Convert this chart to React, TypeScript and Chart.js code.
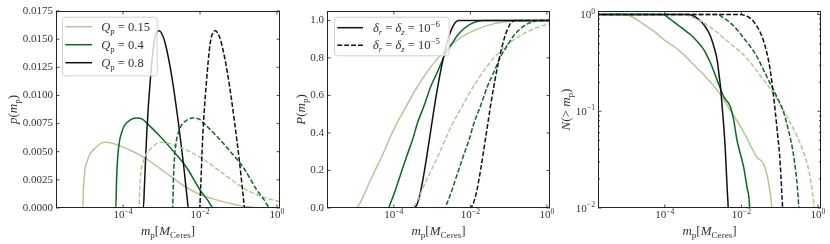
import React, { useEffect, useRef } from 'react';
import { Chart, registerables } from 'chart.js';

Chart.register(...registerables);

const SERIF = '"Liberation Serif", "DejaVu Serif", serif';
const LIGHT = 'rgb(178,200,152)';
const DARK = 'rgb(10,105,35)';
const BLACK = '#111111';
const TEXT = '#333333';

// ---------- shared axes ----------
const X_MIN = 1.8e-6;
const X_MAX = 1.2;
const xTickValues = [1e-4, 1e-2, 1];
const xTickExponents = ['−4', '−2', '0'];

// ---------- panel 1: p(m_p) ----------
const pdfTicks = [0, 0.0025, 0.005, 0.0075, 0.01, 0.0125, 0.015, 0.0175];
const pdfTickLabels = ['0.0000', '0.0025', '0.0050', '0.0075', '0.0100', '0.0125', '0.0150', '0.0175'];

const pdfLowSolidM = [1e-6, 8.9e-6, 9.3e-6, 1.02e-5, 1.15e-5, 1.38e-5, 1.86e-5, 2.5e-5, 3.4e-5, 5.0e-5, 8.5e-5, 1.86e-4, 4.1e-4, 9.1e-4, 2.0e-3, 4.5e-3, 1.0e-2, 2.7e-2, 7.4e-2, 0.2, 0.4, 2];
const pdfLowSolidP = [0, 0, 0.0016, 0.0034, 0.0041, 0.0048, 0.0053, 0.0057, 0.00583, 0.00577, 0.0055, 0.005, 0.00435, 0.0035, 0.00265, 0.0018, 0.0012, 0.00072, 0.00034, 0.0001, 0, 0];
const pdfMidSolidM = [1e-6, 6.46e-5, 6.76e-5, 7.24e-5, 7.94e-5, 9.33e-5, 1.12e-4, 1.51e-4, 2.14e-4, 3.16e-4, 4.07e-4, 9.12e-4, 2.04e-3, 4.47e-3, 1e-2, 1.58e-2, 2.24e-2, 2];
const pdfMidSolidP = [0, 0, 0.0025, 0.0045, 0.0058, 0.0068, 0.0074, 0.0078, 0.008, 0.0079, 0.00756, 0.00637, 0.00503, 0.0036, 0.0016, 0.0007, 0, 0];
const pdfHighSolidM = [1e-6, 3.37e-4, 3.58e-4, 4.12e-4, 5.02e-4, 6.38e-4, 7.48e-4, 8.61e-4, 1.01e-3, 1.23e-3, 1.84e-3, 2.74e-3, 3.69e-3, 4.69e-3, 4.98e-3, 2];
const pdfHighSolidP = [0, 0, 0.0019, 0.00667, 0.0111, 0.0147, 0.0156, 0.01574, 0.0155, 0.0147, 0.0117, 0.00756, 0.004, 0.0007, 0, 0];
const pdfLowDashM = [1e-6, 2.58e-4, 2.7e-4, 2.96e-4, 3.34e-4, 4.0e-4, 5.39e-4, 7.25e-4, 9.86e-4, 1.45e-3, 2.47e-3, 5.39e-3, 1.19e-2, 2.64e-2, 5.8e-2, 0.131, 0.29, 0.78, 2.15];
const pdfLowDashP = [0, 0, 0.0016, 0.0034, 0.0041, 0.0048, 0.0053, 0.0057, 0.00583, 0.00577, 0.0055, 0.005, 0.00435, 0.0035, 0.00265, 0.0018, 0.0012, 0.00072, 0.00034];
const pdfMidDashM = [1e-6, 1.94e-3, 2.03e-3, 2.17e-3, 2.38e-3, 2.8e-3, 3.36e-3, 4.53e-3, 6.42e-3, 9.5e-3, 1.22e-2, 2.74e-2, 6.1e-2, 0.134, 0.3, 0.47, 0.67, 2];
const pdfMidDashP = [0, 0, 0.0025, 0.0045, 0.0058, 0.0068, 0.0074, 0.0078, 0.008, 0.0079, 0.00756, 0.00637, 0.00503, 0.0036, 0.0016, 0.0007, 0, 0];
const pdfHighDashM = [1e-6, 9.77e-3, 1.04e-2, 1.19e-2, 1.46e-2, 1.85e-2, 2.17e-2, 2.5e-2, 2.93e-2, 3.57e-2, 5.34e-2, 7.95e-2, 0.107, 0.136, 0.144, 2];
const pdfHighDashP = [0, 0, 0.0019, 0.00667, 0.0111, 0.0147, 0.0156, 0.01574, 0.0155, 0.0147, 0.0117, 0.00756, 0.004, 0.0007, 0, 0];

// ---------- panel 2: P(m_p) ----------
const cdfTicks = [0, 0.2, 0.4, 0.6, 0.8, 1.0];
const cdfTickLabels = ['0.0', '0.2', '0.4', '0.6', '0.8', '1.0'];

const cdfLowSolidM = [1e-6, 1.02e-5, 1.26e-5, 1.58e-5, 2.09e-5, 3.09e-5, 5.01e-5, 6.92e-5, 1.12e-4, 1.86e-4, 4.07e-4, 9.12e-4, 2.04e-3, 4.47e-3, 1e-2, 2.69e-2, 7.41e-2, 0.2, 1.0, 2];
const cdfLowSolidP = [0, 0, 0.02, 0.06, 0.117, 0.192, 0.28, 0.346, 0.44, 0.522, 0.645, 0.751, 0.834, 0.894, 0.937, 0.972, 0.991, 0.998, 1, 1];
const cdfMidSolidM = [1e-6, 7.08e-5, 8.32e-5, 1.12e-4, 1.51e-4, 2.14e-4, 3.16e-4, 4.07e-4, 6.31e-4, 9.12e-4, 1.41e-3, 2.04e-3, 3.16e-3, 4.47e-3, 6.31e-3, 1e-2, 1.58e-2, 2.24e-2, 2];
const cdfMidSolidP = [0, 0, 0.03, 0.1, 0.18, 0.272, 0.37, 0.448, 0.55, 0.645, 0.73, 0.806, 0.87, 0.917, 0.95, 0.98, 0.995, 1, 1];
const cdfHighSolidM = [1e-6, 3.37e-4, 3.58e-4, 4.12e-4, 5.02e-4, 6.38e-4, 7.48e-4, 8.61e-4, 1.01e-3, 1.23e-3, 1.84e-3, 2.74e-3, 3.69e-3, 4.69e-3, 4.98e-3, 2];
const cdfHighSolidP = [0, 0, 0.002, 0.024, 0.089, 0.203, 0.292, 0.374, 0.466, 0.578, 0.772, 0.914, 0.978, 0.999, 1, 1];
const cdfLowDashM = [1e-6, 2.96e-4, 3.65e-4, 4.58e-4, 6.06e-4, 8.96e-4, 1.45e-3, 2.0e-3, 3.25e-3, 5.39e-3, 1.18e-2, 2.64e-2, 5.92e-2, 0.13, 0.29, 0.78, 2.15];
const cdfLowDashP = [0, 0, 0.02, 0.06, 0.117, 0.192, 0.28, 0.346, 0.44, 0.522, 0.645, 0.751, 0.834, 0.894, 0.937, 0.972, 0.991];
const cdfMidDashM = [1e-6, 2.12e-3, 2.5e-3, 3.36e-3, 4.53e-3, 6.42e-3, 9.48e-3, 1.22e-2, 1.89e-2, 2.74e-2, 4.23e-2, 6.12e-2, 9.48e-2, 0.134, 0.189, 0.3, 0.474, 0.672, 2];
const cdfMidDashP = [0, 0, 0.03, 0.1, 0.18, 0.272, 0.37, 0.448, 0.55, 0.645, 0.73, 0.806, 0.87, 0.917, 0.95, 0.98, 0.995, 1, 1];
const cdfHighDashM = [1e-6, 9.77e-3, 1.04e-2, 1.19e-2, 1.46e-2, 1.85e-2, 2.17e-2, 2.5e-2, 2.93e-2, 3.57e-2, 5.34e-2, 7.95e-2, 0.107, 0.136, 0.144, 2];
const cdfHighDashP = [0, 0, 0.002, 0.024, 0.089, 0.203, 0.292, 0.374, 0.466, 0.578, 0.772, 0.914, 0.978, 0.999, 1, 1];

// ---------- panel 3: N(> m_p) ----------
const survTicks = [0.01, 0.1, 1];
const survTickExponents = ['−2', '−1', '0'];
const survMinorTicks = [0.02, 0.03, 0.04, 0.05, 0.06, 0.07, 0.08, 0.09, 0.2, 0.3, 0.4, 0.5, 0.6, 0.7, 0.8, 0.9];

const survLowSolidM = [1e-6, 9.7e-6, 1.6e-5, 2.9e-5, 5.28e-5, 9.6e-5, 1.75e-4, 3.18e-4, 5.78e-4, 1.05e-3, 2.33e-3, 5.18e-3, 1.15e-2, 2.55e-2, 3.8e-2, 5.13e-2, 6.26e-2, 7e-2];
const survLowSolidN = [1, 1, 0.923, 0.787, 0.67, 0.549, 0.468, 0.383, 0.301, 0.237, 0.166, 0.102, 0.061, 0.0334, 0.0285, 0.0184, 0.0101, 0.005];
const survMidSolidM = [1e-6, 8.7e-5, 1.43e-4, 2.13e-4, 3.18e-4, 4.73e-4, 7.05e-4, 1.05e-3, 1.57e-3, 2.33e-3, 3.48e-3, 5.18e-3, 6.32e-3, 7.71e-3, 9.42e-3, 1.15e-2, 1.4e-2, 1.64e-2, 1.7e-2];
const survMidSolidN = [1, 1, 0.887, 0.787, 0.698, 0.619, 0.528, 0.432, 0.314, 0.21, 0.141, 0.111, 0.0806, 0.0499, 0.0362, 0.0263, 0.0163, 0.0101, 0.006];
const survHighSolidM = [1e-6, 4.28e-4, 5.78e-4, 7.8e-4, 1.05e-3, 1.28e-3, 1.57e-3, 1.91e-3, 2.33e-3, 2.58e-3, 2.85e-3, 3.15e-3, 3.48e-3, 3.77e-3, 4.08e-3, 4.33e-3, 4.51e-3, 4.6e-3];
const survHighSolidN = [1, 1, 0.961, 0.887, 0.787, 0.698, 0.595, 0.468, 0.34, 0.247, 0.179, 0.111, 0.0687, 0.0425, 0.0224, 0.0139, 0.0101, 0.006];
const survLowDashM = [1e-6, 3.18e-4, 5.78e-4, 1.05e-3, 1.91e-3, 3.48e-3, 6.32e-3, 1.15e-2, 2.09e-2, 3.8e-2, 6.92e-2, 0.126, 0.229, 0.377, 0.528, 0.645, 0.727, 0.787, 0.82];
const survLowDashN = [1, 1, 0.923, 0.819, 0.698, 0.571, 0.468, 0.383, 0.29, 0.21, 0.153, 0.102, 0.066, 0.0425, 0.0285, 0.0191, 0.0139, 0.0101, 0.006];
const survMidDashM = [1e-6, 2.33e-3, 3.48e-3, 5.18e-3, 7.71e-3, 1.15e-2, 1.71e-2, 2.55e-2, 3.8e-2, 5.66e-2, 8.44e-2, 0.126, 0.17, 0.22, 0.268, 0.29, 0.315, 0.33];
const survMidDashN = [1, 1, 0.923, 0.819, 0.698, 0.571, 0.468, 0.368, 0.267, 0.194, 0.141, 0.0984, 0.0634, 0.0393, 0.0224, 0.0163, 0.0101, 0.006];
const survHighDashM = [1e-6, 9.42e-3, 1.4e-2, 1.89e-2, 2.55e-2, 3.44e-2, 4.65e-2, 5.66e-2, 6.64e-2, 7.63e-2, 8.79e-2, 9.91e-2, 0.107, 0.114, 0.119, 0.122];
const survHighDashN = [1, 1, 0.961, 0.887, 0.756, 0.595, 0.399, 0.267, 0.166, 0.102, 0.0585, 0.0362, 0.0224, 0.0139, 0.0101, 0.006];

// ---------- text helpers ----------
type Seg = { t: string; it?: boolean; sub?: boolean; sup?: boolean };

const xTitle: Seg[] = [{ t: 'm', it: true }, { t: 'p', sub: true }, { t: '[' }, { t: 'M', it: true }, { t: 'Ceres', sub: true }, { t: ']' }];
const qLabel = (q: string): Seg[] => [{ t: 'Q', it: true }, { t: 'p', sub: true }, { t: ' = ' + q }];
const dLabel = (e: string): Seg[] => [
  { t: 'δ', it: true }, { t: 'r', it: true, sub: true }, { t: ' = ' },
  { t: 'δ', it: true }, { t: 'z', it: true, sub: true }, { t: ' = 10' }, { t: e, sup: true },
];
const powLabel = (e: string): Seg[] => [{ t: '10' }, { t: e, sup: true }];

function segFont(s: Seg, size: number) {
  const sz = s.sub || s.sup ? size * 0.7 : size;
  return `${s.it ? 'italic ' : ''}${sz}px ${SERIF}`;
}

function drawMath(ctx: CanvasRenderingContext2D, segs: Seg[], x: number, y: number, size: number, align: 'left' | 'center' | 'right') {
  ctx.textAlign = 'left';
  ctx.textBaseline = 'alphabetic';
  let total = 0;
  const ws = segs.map((s) => {
    ctx.font = segFont(s, size);
    const w = ctx.measureText(s.t).width;
    total += w;
    return w;
  });
  let cx = align === 'center' ? x - total / 2 : align === 'right' ? x - total : x;
  const base = y + size * 0.33;
  segs.forEach((s, i) => {
    ctx.font = segFont(s, size);
    const dy = s.sub ? size * 0.22 : s.sup ? -size * 0.42 : 0;
    ctx.fillText(s.t, cx, base + dy);
    cx += ws[i];
  });
}

// ---------- panel definitions ----------
interface Series { label: string; m: number[]; v: number[]; color: string; dashed: boolean }
interface LegendItem { segs: Seg[]; color: string; dashed: boolean }
interface PanelCfg {
  canvasLeft: number; canvasWidth: number; areaLeft: number; areaRight: number;
  yType: 'linear' | 'logarithmic'; yMin: number; yMax: number;
  yTicks: number[]; yLabels: string[]; yExponents: string[]; yMinor: number[];
  yTitle: Seg[]; yTitleX: number;
  series: Series[];
  legend: { box: [number, number, number, number]; lineX: [number, number]; textX: number; rows: number[]; items: LegendItem[] };
}

const AREA_TOP = 11;
const AREA_BOTTOM = 208;
const H = 244;
const DASH = [4.8, 2.1];
const TICK_SIZE = 11;
const TITLE_SIZE = 13;

const panels: PanelCfg[] = [
  {
    canvasLeft: 0, canvasWidth: 292, areaLeft: 56, areaRight: 280,
    yType: 'linear', yMin: 0, yMax: 0.0175, yTicks: pdfTicks, yLabels: pdfTickLabels, yExponents: [], yMinor: [],
    yTitle: [{ t: 'p', it: true }, { t: '(' }, { t: 'm', it: true }, { t: 'p', sub: true }, { t: ')' }], yTitleX: 13,
    series: [
      { label: 'Q_p = 0.8, δ = 1e-5', m: pdfHighDashM, v: pdfHighDashP, color: BLACK, dashed: true },
      { label: 'Q_p = 0.4, δ = 1e-5', m: pdfMidDashM, v: pdfMidDashP, color: DARK, dashed: true },
      { label: 'Q_p = 0.15, δ = 1e-5', m: pdfLowDashM, v: pdfLowDashP, color: LIGHT, dashed: true },
      { label: 'Q_p = 0.8', m: pdfHighSolidM, v: pdfHighSolidP, color: BLACK, dashed: false },
      { label: 'Q_p = 0.4', m: pdfMidSolidM, v: pdfMidSolidP, color: DARK, dashed: false },
      { label: 'Q_p = 0.15', m: pdfLowSolidM, v: pdfLowSolidP, color: LIGHT, dashed: false },
    ],
    legend: {
      box: [62, 16.7, 94.7, 58.6], lineX: [65.3, 92], textX: 101.3, rows: [26.7, 44.7, 62.7],
      items: [
        { segs: qLabel('0.15'), color: LIGHT, dashed: false },
        { segs: qLabel('0.4'), color: DARK, dashed: false },
        { segs: qLabel('0.8'), color: BLACK, dashed: false },
      ],
    },
  },
  {
    canvasLeft: 284, canvasWidth: 278, areaLeft: 327, areaRight: 550,
    yType: 'linear', yMin: 0, yMax: 1.05, yTicks: cdfTicks, yLabels: cdfTickLabels, yExponents: [], yMinor: [],
    yTitle: [{ t: 'P', it: true }, { t: '(' }, { t: 'm', it: true }, { t: 'p', sub: true }, { t: ')' }], yTitleX: 300.5,
    series: [
      { label: 'Q_p = 0.8, δ = 1e-5', m: cdfHighDashM, v: cdfHighDashP, color: BLACK, dashed: true },
      { label: 'Q_p = 0.4, δ = 1e-5', m: cdfMidDashM, v: cdfMidDashP, color: DARK, dashed: true },
      { label: 'Q_p = 0.15, δ = 1e-5', m: cdfLowDashM, v: cdfLowDashP, color: LIGHT, dashed: true },
      { label: 'Q_p = 0.8, δ = 1e-6', m: cdfHighSolidM, v: cdfHighSolidP, color: BLACK, dashed: false },
      { label: 'Q_p = 0.4, δ = 1e-6', m: cdfMidSolidM, v: cdfMidSolidP, color: DARK, dashed: false },
      { label: 'Q_p = 0.15, δ = 1e-6', m: cdfLowSolidM, v: cdfLowSolidP, color: LIGHT, dashed: false },
    ],
    legend: {
      box: [334, 16.7, 114.7, 38.6], lineX: [337.3, 363], textX: 373, rows: [27.7, 45.3],
      items: [
        { segs: dLabel('−6'), color: BLACK, dashed: false },
        { segs: dLabel('−5'), color: BLACK, dashed: true },
      ],
    },
  },
  {
    canvasLeft: 556, canvasWidth: 274, areaLeft: 598, areaRight: 821,
    yType: 'logarithmic', yMin: 0.01, yMax: 1.09, yTicks: survTicks, yLabels: [], yExponents: survTickExponents, yMinor: survMinorTicks,
    yTitle: [{ t: 'N', it: true }, { t: '(> ' }, { t: 'm', it: true }, { t: 'p', sub: true }, { t: ')' }], yTitleX: 566,
    series: [
      { label: 'Q_p = 0.8, δ = 1e-5', m: survHighDashM, v: survHighDashN, color: BLACK, dashed: true },
      { label: 'Q_p = 0.4, δ = 1e-5', m: survMidDashM, v: survMidDashN, color: DARK, dashed: true },
      { label: 'Q_p = 0.15, δ = 1e-5', m: survLowDashM, v: survLowDashN, color: LIGHT, dashed: true },
      { label: 'Q_p = 0.8, δ = 1e-6', m: survHighSolidM, v: survHighSolidN, color: BLACK, dashed: false },
      { label: 'Q_p = 0.4, δ = 1e-6', m: survMidSolidM, v: survMidSolidN, color: DARK, dashed: false },
      { label: 'Q_p = 0.15, δ = 1e-6', m: survLowSolidM, v: survLowSolidN, color: LIGHT, dashed: false },
    ],
    legend: { box: [0, 0, 0, 0], lineX: [0, 0], textX: 0, rows: [], items: [] },
  },
];

function findLabel(values: number[], labels: string[], v: number) {
  const i = values.findIndex((t) => Math.abs(t - v) <= 1e-6 * Math.abs(t) + 1e-12);
  return i >= 0 ? labels[i] : '';
}

function Panel({ cfg }: { cfg: PanelCfg }) {
  const ref = useRef<HTMLCanvasElement | null>(null);
  useEffect(() => {
    if (!ref.current) return;
    const off = cfg.canvasLeft;
    const yIsLog = cfg.yType === 'logarithmic';
    const decor = {
      id: 'decor',
      afterDatasetsDraw(chart: any) {
        const ctx: CanvasRenderingContext2D = chart.ctx;
        const a = chart.chartArea;
        const xs = chart.scales.x;
        const ys = chart.scales.y;
        ctx.save();
        const seg = (x1: number, y1: number, x2: number, y2: number) => {
          ctx.beginPath(); ctx.moveTo(x1, y1); ctx.lineTo(x2, y2); ctx.stroke();
        };
        ctx.strokeStyle = '#1a1a1a';
        ctx.lineWidth = 0.8;
        xTickValues.forEach((v) => {
          const px = xs.getPixelForValue(v);
          seg(px, a.bottom, px, a.bottom - 3.5);
          seg(px, a.top, px, a.top + 3.5);
        });
        cfg.yTicks.forEach((v) => {
          const py = ys.getPixelForValue(v);
          seg(a.left, py, a.left + 3.5, py);
          seg(a.right, py, a.right - 3.5, py);
        });
        cfg.yMinor.forEach((v) => {
          const py = ys.getPixelForValue(v);
          seg(a.left, py, a.left + 2, py);
          seg(a.right, py, a.right - 2, py);
        });
        ctx.lineWidth = 1;
        ctx.strokeStyle = '#222';
        ctx.strokeRect(Math.round(a.left) + 0.5, Math.round(a.top) + 0.5, Math.round(a.right - a.left) - 1, Math.round(a.bottom - a.top) - 1);

        // power-of-ten tick labels (log axes)
        ctx.fillStyle = TEXT;
        xTickValues.forEach((v, i) => {
          drawMath(ctx, powLabel(xTickExponents[i]), xs.getPixelForValue(v), a.bottom + 6.5, TICK_SIZE, 'center');
        });
        if (yIsLog) {
          cfg.yTicks.forEach((v, i) => {
            drawMath(ctx, powLabel(cfg.yExponents[i]), a.left - 3, ys.getPixelForValue(v), TICK_SIZE, 'right');
          });
        }

        // legend
        const L = cfg.legend;
        if (L.items.length) {
          const [bx, by, bw, bh] = L.box;
          ctx.beginPath();
          (ctx as any).roundRect(bx - off + 0.5, by + 0.5, bw, bh, 3);
          ctx.fillStyle = 'rgba(255,255,255,0.8)';
          ctx.fill();
          ctx.strokeStyle = '#d2d2d2';
          ctx.lineWidth = 1;
          ctx.stroke();
          L.items.forEach((it, i) => {
            const y = L.rows[i];
            ctx.strokeStyle = it.color;
            ctx.lineWidth = 1.5;
            ctx.setLineDash(it.dashed ? DASH : []);
            seg(L.lineX[0] - off, y, L.lineX[1] - off, y);
            ctx.setLineDash([]);
            ctx.fillStyle = TEXT;
            drawMath(ctx, it.segs, L.textX - off, y, 12.5, 'left');
          });
        }

        // axis titles
        ctx.fillStyle = TEXT;
        drawMath(ctx, xTitle, (a.left + a.right) / 2, 231, TITLE_SIZE, 'center');
        ctx.save();
        ctx.translate(cfg.yTitleX - off, (a.top + a.bottom) / 2);
        ctx.rotate(-Math.PI / 2);
        drawMath(ctx, cfg.yTitle, 0, 0, TITLE_SIZE, 'center');
        ctx.restore();
        ctx.restore();
      },
    };

    const tickFont = { family: SERIF, size: TICK_SIZE };
    const chart = new Chart(ref.current, {
      type: 'line',
      data: {
        datasets: cfg.series.map((s) => ({
          label: s.label,
          data: s.m.map((m, i) => ({ x: m, y: s.v[i] })),
          borderColor: s.color,
          backgroundColor: s.color,
          borderWidth: 1.5,
          borderDash: s.dashed ? DASH : [],
          pointRadius: 0,
          fill: false,
          cubicInterpolationMode: 'monotone' as const,
        })),
      },
      options: {
        animation: false,
        responsive: false,
        maintainAspectRatio: false,
        devicePixelRatio: 1,
        events: [],
        layout: { padding: { left: 0, top: AREA_TOP, right: cfg.canvasLeft + cfg.canvasWidth - cfg.areaRight, bottom: 0 } },
        plugins: { legend: { display: false }, tooltip: { enabled: false } },
        scales: {
          x: {
            type: 'logarithmic',
            min: X_MIN,
            max: X_MAX,
            grid: { display: false, drawTicks: false },
            border: { display: false },
            ticks: { display: false },
            afterBuildTicks: (s: any) => { s.ticks = xTickValues.map((v) => ({ value: v })); },
            afterFit: (s: any) => { s.height = H - AREA_BOTTOM; },
          },
          y: {
            type: cfg.yType,
            min: cfg.yMin,
            max: cfg.yMax,
            grid: { display: false, drawTicks: false },
            border: { display: false },
            ticks: {
              display: !yIsLog,
              font: tickFont, color: TEXT, padding: 3, autoSkip: false,
              callback: (v: any) => findLabel(cfg.yTicks, cfg.yLabels, Number(v)),
            },
            afterBuildTicks: (s: any) => { s.ticks = cfg.yTicks.map((v) => ({ value: v })); },
            afterFit: (s: any) => { s.width = cfg.areaLeft - cfg.canvasLeft; },
          },
        },
      } as any,
      plugins: [decor],
    });
    return () => chart.destroy();
  }, [cfg]);
  return (
    <canvas
      ref={ref}
      width={cfg.canvasWidth}
      height={H}
      style={{ position: 'absolute', left: cfg.canvasLeft, top: 0, width: cfg.canvasWidth, height: H }}
    />
  );
}

export default function App() {
  return (
    <div style={{ position: 'fixed', left: 0, top: 0, width: 830, height: H, background: '#fff', overflow: 'hidden' }}>
      {panels.map((p, i) => (
        <Panel key={i} cfg={p} />
      ))}
    </div>
  );
}
